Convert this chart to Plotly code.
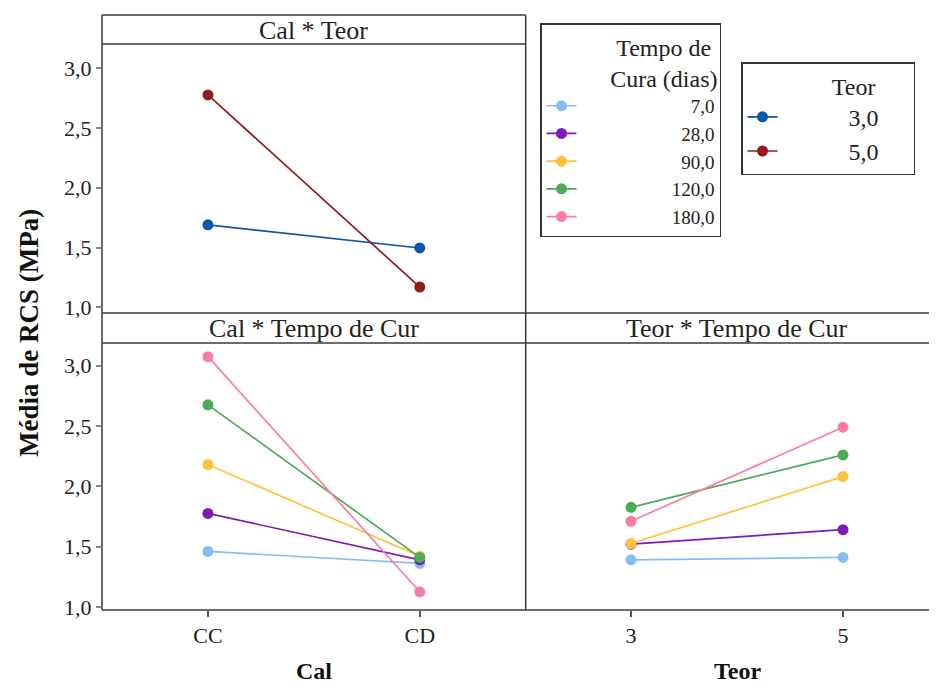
import plotly.graph_objects as go

# ---------------- data ----------------
cal_levels = ["CC", "CD"]
teor_levels = [3, 5]
tempo_levels = ["7,0", "28,0", "90,0", "120,0", "180,0"]
teor_labels = ["3,0", "5,0"]

# Cal * Teor (rows: Teor 3, Teor 5; columns: CC, CD)
cal_teor = [
    [1.69, 1.497],
    [2.775, 1.171],
]
# Cal * Tempo de Cura (rows: 7, 28, 90, 120, 180; columns: CC, CD)
cal_tempo = [
    [1.46, 1.36],
    [1.775, 1.39],
    [2.18, 1.42],
    [2.675, 1.41],
    [3.075, 1.125],
]
# Teor * Tempo de Cura (rows: 7, 28, 90, 120, 180; columns: Teor 3, Teor 5)
teor_tempo = [
    [1.39, 1.41],
    [1.52, 1.64],
    [1.525, 2.08],
    [1.825, 2.26],
    [1.71, 2.49],
]

teor_colors = ["#0B56A8", "#951A1D"]
tempo_colors = ["#86BDF7", "#7E1BB5", "#FFC23A", "#4DAA55", "#FA7EA3"]

FONT = "Liberation Serif"
LINE = "#3a3a3a"
NB = "\u00a0"


def pad_left(lbl, width_em, extra):
    # right-align digit labels (digits 0.5em, comma / nbsp 0.25em)
    w = sum(0.25 if c == "," else 0.5 for c in lbl)
    n = int(round((width_em - w) / 0.25)) + extra
    return NB * n + lbl


fig = go.Figure()

# Top-left: Cal * Teor
for i, lab in enumerate(teor_labels):
    fig.add_trace(go.Scatter(
        x=cal_levels, y=cal_teor[i], mode="lines+markers",
        line=dict(color=teor_colors[i], width=1.7),
        marker=dict(color=teor_colors[i], size=11),
        name=NB * 11 + lab + NB * 5, legend="legend2", xaxis="x", yaxis="y",
    ))

# Bottom-left: Cal * Tempo
for i, lab in enumerate(tempo_levels):
    fig.add_trace(go.Scatter(
        x=cal_levels, y=cal_tempo[i], mode="lines+markers",
        line=dict(color=tempo_colors[i], width=1.7),
        marker=dict(color=tempo_colors[i], size=11),
        name=pad_left(lab, 2.25, 19), legend="legend", legendgroup=lab,
        xaxis="x2", yaxis="y2",
    ))

# Bottom-right: Teor * Tempo
for i, lab in enumerate(tempo_levels):
    fig.add_trace(go.Scatter(
        x=teor_levels, y=teor_tempo[i], mode="lines+markers",
        line=dict(color=tempo_colors[i], width=1.7),
        marker=dict(color=tempo_colors[i], size=11),
        name=lab, legendgroup=lab, showlegend=False, xaxis="x3", yaxis="y3",
    ))

# page has an 8px body margin: reference pixel p -> figure pixel p - 8
OFF = 8
W, H = 937 - 2 * OFF, 691 - 2 * OFF
L = 102 - OFF
T = 15 - OFF
B = H - (610 - OFF)
R = 0
pw, ph = W - L - R, H - T - B
RIGHT_EDGE = OFF + W  # reference pixel of the figure's right edge


def px_x(p):
    return (p - OFF - L) / pw


def px_y(p):
    return (H - B - (p - OFF)) / ph


xsplit = px_x(525.7)
top_plot = [px_y(313), px_y(44)]
bot_plot = [0, px_y(343)]

# Teor axis: 3 at ref x=631, 5 at ref x=843
t_per_px = 2.0 / (843 - 631)
x3_range = [3 - (631 - 525.7) * t_per_px, 5 + (RIGHT_EDGE - 843) * t_per_px]

tickfont = dict(family=FONT, size=22, color="#222")
common_y = dict(showgrid=False, zeroline=False, ticks="outside", ticklen=5,
                tickcolor="#888", tickwidth=1.5, tickfont=tickfont,
                tickformat=".1f", dtick=0.5, showline=False)

fig.update_layout(
    width=W, height=H,
    margin=dict(l=L, r=R, t=T, b=B),
    paper_bgcolor="white", plot_bgcolor="white",
    separators=", ",
    font=dict(family=FONT, color="#222"),
    showlegend=True,
    xaxis=dict(domain=[0, xsplit], anchor="y", type="category",
               range=[-0.5, 1.5], showticklabels=False, ticks="",
               showgrid=False, zeroline=False, showline=False),
    yaxis=dict(domain=top_plot, anchor="x", range=[0.954, 3.2], **common_y),
    xaxis2=dict(domain=[0, xsplit], anchor="y2", type="category",
                range=[-0.5, 1.5], showgrid=False, zeroline=False,
                ticks="outside", ticklen=6, tickcolor="#555", tickwidth=1.5,
                tickfont=tickfont, showline=False),
    yaxis2=dict(domain=bot_plot, anchor="x2", range=[0.974, 3.188], **common_y),
    xaxis3=dict(domain=[xsplit, 1], anchor="y3", range=x3_range,
                tickvals=teor_levels, ticktext=[str(v) for v in teor_levels],
                showgrid=False, zeroline=False, ticks="outside", ticklen=6,
                tickcolor="#555", tickwidth=1.5, tickfont=tickfont, showline=False),
    yaxis3=dict(domain=bot_plot, anchor="x3", range=[0.974, 3.188],
                showticklabels=False, ticks="", showgrid=False,
                zeroline=False, showline=False),
    legend=dict(
        x=px_x(540), y=px_y(23), xanchor="left", yanchor="top",
        bordercolor="#333", borderwidth=1.5, bgcolor="white",
        title=dict(text=NB + "Tempo de<br>Cura (dias)", side="top right",
                   font=dict(family=FONT, size=24, color="#222")),
        font=dict(family=FONT, size=19, color="#222"),
        itemwidth=30, tracegroupgap=0,
    ),
    legend2=dict(
        x=px_x(741), y=px_y(62), xanchor="left", yanchor="top",
        bordercolor="#333", borderwidth=1.5, bgcolor="white",
        title=dict(text="Teor" + NB * 6, side="top right",
                   font=dict(family=FONT, size=24, color="#222")),
        font=dict(family=FONT, size=24, color="#222"),
        itemwidth=30, tracegroupgap=0,
    ),
)

shapes = []


def hline(y, x0, x1):
    shapes.append(dict(type="line", xref="paper", yref="paper",
                       x0=px_x(x0), x1=px_x(x1), y0=px_y(y), y1=px_y(y),
                       line=dict(color=LINE, width=1.5)))


def vline(x, y0, y1):
    shapes.append(dict(type="line", xref="paper", yref="paper",
                       x0=px_x(x), x1=px_x(x), y0=px_y(y0), y1=px_y(y1),
                       line=dict(color=LINE, width=1.5)))


hline(15, 102, 525.7)
hline(44, 102, 525.7)
hline(313, 102, RIGHT_EDGE)
hline(343, 102, RIGHT_EDGE)
hline(610, 102, RIGHT_EDGE)
vline(102, 15, 610)
vline(525.7, 15, 610)
fig.update_layout(shapes=shapes)

ann = []
strip_font = dict(family=FONT, size=26, color="#222")


def add_text(text, x, y, font, angle=0):
    ann.append(dict(text=text, x=px_x(x), y=px_y(y), xref="paper",
                    yref="paper", showarrow=False, font=font,
                    xanchor="center", yanchor="middle", textangle=angle))


add_text("Cal * Teor", 313.8, 30, strip_font)
add_text("Cal * Tempo de Cur", 313.8, 328, strip_font)
add_text("Teor * Tempo de Cur", 737, 328, strip_font)
title_font = dict(family=FONT, size=24, color="#111")
add_text("<b>Cal</b>", 313.8, 671, title_font)
add_text("<b>Teor</b>", 737, 671, title_font)
add_text("<b>Média de RCS (MPa)</b>", 29, 333,
         dict(family=FONT, size=27, color="#111"), angle=-90)
fig.update_layout(annotations=ann)

fig.write_html("out.html")
